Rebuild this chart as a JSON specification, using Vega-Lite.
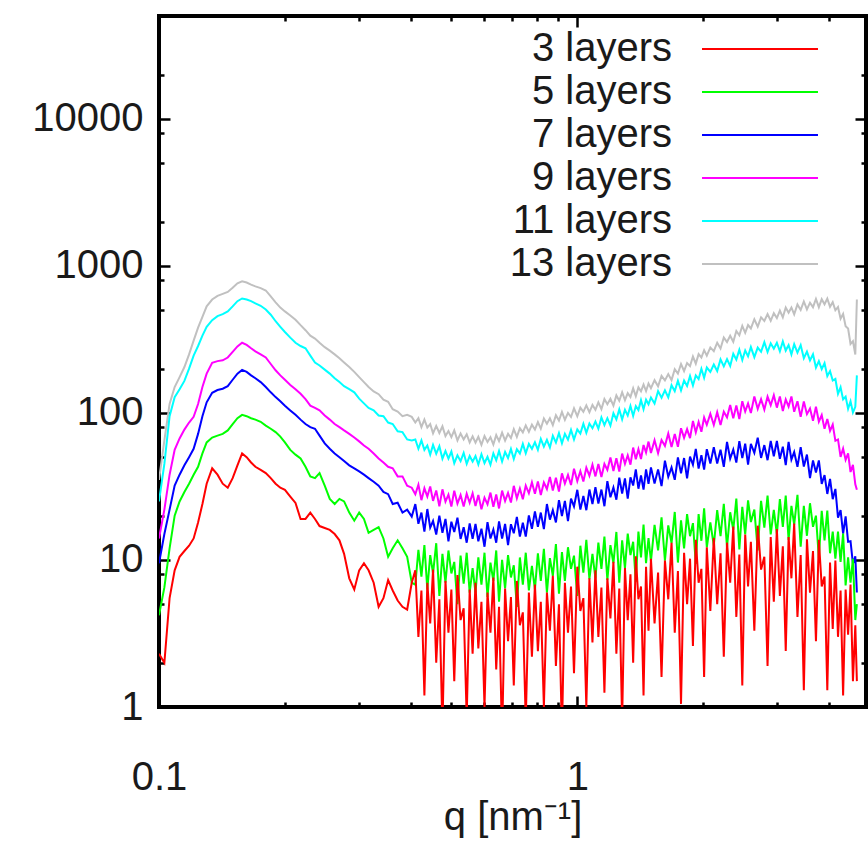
{
  "$schema": "https://vega.github.io/schema/vega-lite/v6.json",
  "width": 707,
  "height": 691,
  "autosize": "none",
  "padding": {"left": 159, "top": 16, "right": 2, "bottom": 137},
  "background": "white",
  "config": {
    "view": {"stroke": "#000000", "strokeWidth": 4},
    "font": "Liberation Sans",
    "axis": {
      "domain": false,
      "grid": false,
      "tickColor": "#000000",
      "tickWidth": 2.5,
      "labelFont": "Liberation Sans",
      "labelFontSize": 40,
      "labelColor": "#1a1a1a",
      "labelFlush": false,
      "labelOverlap": false,
      "labelBound": false
    }
  },
  "datasets": {
    "saxs": [
      {"q":0.100,"L3":2.3,"L5":4.2,"L7":9.5,"L9":14,"L11":25,"L13":35},
      {"q":0.103,"L3":2.0,"L5":6.5,"L7":15,"L9":22,"L11":45,"L13":65},
      {"q":0.106,"L3":5.5,"L5":12,"L7":22,"L9":38,"L11":95,"L13":115},
      {"q":0.109,"L3":8.5,"L5":20,"L7":32,"L9":56,"L11":128,"L13":150},
      {"q":0.112,"L3":10.5,"L5":25,"L7":38,"L9":67,"L11":145,"L13":175},
      {"q":0.115,"L3":11.5,"L5":29,"L7":44,"L9":77,"L11":165,"L13":205},
      {"q":0.118,"L3":12.5,"L5":33,"L7":50,"L9":86,"L11":200,"L13":250},
      {"q":0.121,"L3":14,"L5":38,"L7":57,"L9":94,"L11":245,"L13":310},
      {"q":0.124,"L3":18,"L5":43,"L7":72,"L9":115,"L11":285,"L13":380},
      {"q":0.127,"L3":24,"L5":53,"L7":95,"L9":150,"L11":335,"L13":450},
      {"q":0.130,"L3":33,"L5":63,"L7":118,"L9":185,"L11":385,"L13":530},
      {"q":0.134,"L3":42,"L5":68,"L7":137,"L9":219,"L11":427,"L13":590},
      {"q":0.138,"L3":38,"L5":70,"L7":143,"L9":225,"L11":455,"L13":625},
      {"q":0.142,"L3":33,"L5":72,"L7":146,"L9":228,"L11":470,"L13":645},
      {"q":0.146,"L3":31,"L5":76,"L7":152,"L9":238,"L11":490,"L13":665},
      {"q":0.150,"L3":36,"L5":84,"L7":168,"L9":260,"L11":530,"L13":710},
      {"q":0.154,"L3":44,"L5":92,"L7":185,"L9":283,"L11":575,"L13":760},
      {"q":0.158,"L3":53,"L5":97,"L7":196,"L9":300,"L11":600,"L13":785},
      {"q":0.162,"L3":50,"L5":95,"L7":190,"L9":290,"L11":590,"L13":770},
      {"q":0.166,"L3":46,"L5":92,"L7":180,"L9":275,"L11":575,"L13":745},
      {"q":0.170,"L3":43,"L5":90,"L7":172,"L9":262,"L11":555,"L13":725},
      {"q":0.175,"L3":41,"L5":87,"L7":162,"L9":250,"L11":535,"L13":705},
      {"q":0.180,"L3":39,"L5":82,"L7":150,"L9":238,"L11":505,"L13":680},
      {"q":0.185,"L3":36,"L5":78,"L7":138,"L9":215,"L11":465,"L13":620},
      {"q":0.190,"L3":33,"L5":74,"L7":128,"L9":195,"L11":420,"L13":565},
      {"q":0.195,"L3":31,"L5":69,"L7":120,"L9":180,"L11":385,"L13":520},
      {"q":0.200,"L3":30,"L5":63,"L7":112,"L9":168,"L11":355,"L13":490},
      {"q":0.206,"L3":27,"L5":56,"L7":104,"L9":155,"L11":325,"L13":460},
      {"q":0.212,"L3":24.4,"L5":52,"L7":97,"L9":145,"L11":300,"L13":430},
      {"q":0.218,"L3":19,"L5":49,"L7":90,"L9":135,"L11":285,"L13":395},
      {"q":0.224,"L3":19,"L5":43,"L7":84,"L9":124,"L11":275,"L13":365},
      {"q":0.230,"L3":21,"L5":37,"L7":80,"L9":112,"L11":245,"L13":335},
      {"q":0.236,"L3":19,"L5":36,"L7":78,"L9":108,"L11":220,"L13":320},
      {"q":0.242,"L3":17,"L5":39,"L7":70,"L9":104,"L11":210,"L13":300},
      {"q":0.249,"L3":16.5,"L5":32,"L7":62,"L9":96,"L11":197,"L13":280},
      {"q":0.256,"L3":16,"L5":26,"L7":57,"L9":90,"L11":185,"L13":265},
      {"q":0.263,"L3":15,"L5":24,"L7":53,"L9":84,"L11":172,"L13":250},
      {"q":0.270,"L3":13.6,"L5":26,"L7":50,"L9":80,"L11":162,"L13":235},
      {"q":0.277,"L3":11,"L5":25,"L7":47,"L9":76,"L11":152,"L13":220},
      {"q":0.285,"L3":7.5,"L5":21,"L7":44,"L9":72,"L11":145,"L13":205},
      {"q":0.293,"L3":6.3,"L5":18.5,"L7":42,"L9":68,"L11":138,"L13":190},
      {"q":0.301,"L3":8.5,"L5":21,"L7":40,"L9":64,"L11":125,"L13":175},
      {"q":0.309,"L3":9.5,"L5":19,"L7":38,"L9":60,"L11":116,"L13":162},
      {"q":0.317,"L3":8.5,"L5":15.3,"L7":36,"L9":57,"L11":108,"L13":150},
      {"q":0.326,"L3":7,"L5":16,"L7":34,"L9":53,"L11":104,"L13":140},
      {"q":0.335,"L3":4.8,"L5":16.7,"L7":32,"L9":49,"L11":96,"L13":134},
      {"q":0.344,"L3":5.5,"L5":14,"L7":29,"L9":46,"L11":95,"L13":123},
      {"q":0.353,"L3":7.3,"L5":10.5,"L7":28,"L9":43,"L11":86,"L13":119},
      {"q":0.362,"L3":6.2,"L5":12,"L7":24,"L9":42,"L11":84,"L13":106},
      {"q":0.372,"L3":5.3,"L5":13.6,"L7":24.5,"L9":37,"L11":75,"L13":102},
      {"q":0.382,"L3":4.8,"L5":12,"L7":21,"L9":37,"L11":74,"L13":95},
      {"q":0.392,"L3":4.6,"L5":10.5,"L7":22,"L9":32,"L11":66,"L13":97},
      {"q":0.402,"L3":7,"L5":7,"L7":19.7,"L9":31,"L11":65,"L13":94},
      {"q":0.41,"L3":8.5,"L5":6.8,"L7":24,"L9":28,"L11":66,"L13":86},
      {"q":0.417,"L3":3.0,"L5":11.7,"L7":17.6,"L9":32.5,"L11":57,"L13":92},
      {"q":0.424,"L3":6.2,"L5":7.7,"L7":21,"L9":25.5,"L11":65,"L13":80},
      {"q":0.431,"L3":1.2,"L5":12.6,"L7":15.6,"L9":30.7,"L11":56,"L13":90},
      {"q":0.438,"L3":7.0,"L5":6.3,"L7":22.2,"L9":27,"L11":60,"L13":79.5},
      {"q":0.445,"L3":3.7,"L5":10.8,"L7":16.6,"L9":31.6,"L11":52,"L13":84},
      {"q":0.452,"L3":8.6,"L5":8.1,"L7":18.4,"L9":25.2,"L11":60.5,"L13":72.7},
      {"q":0.46,"L3":2.0,"L5":13,"L7":14.9,"L9":29.7,"L11":52.8,"L13":81.6},
      {"q":0.468,"L3":5.4,"L5":5.7,"L7":20,"L9":23.2,"L11":59.4,"L13":73},
      {"q":0.476,"L3":0.7,"L5":11,"L7":15.3,"L9":30.2,"L11":48.8,"L13":81},
      {"q":0.484,"L3":7.2,"L5":7.0,"L7":19,"L9":24.9,"L11":55,"L13":69.6},
      {"q":0.492,"L3":3.2,"L5":11.6,"L7":13.4,"L9":27.8,"L11":48.9,"L13":75.2},
      {"q":0.5,"L3":6.3,"L5":8.1,"L7":18.2,"L9":23.1,"L11":54.6,"L13":68.4},
      {"q":0.508,"L3":1.5,"L5":9.7,"L7":15.5,"L9":29.6,"L11":45.5,"L13":76},
      {"q":0.517,"L3":7.9,"L5":5.0,"L7":19.4,"L9":24.2,"L11":51.5,"L13":65},
      {"q":0.526,"L3":3.9,"L5":10.7,"L7":13.9,"L9":27.6,"L11":47,"L13":72.5},
      {"q":0.535,"L3":4.7,"L5":6.9,"L7":16.7,"L9":23.1,"L11":53.4,"L13":66},
      {"q":0.544,"L3":0.84,"L5":11.2,"L7":13.1,"L9":28.2,"L11":45.1,"L13":71.6},
      {"q":0.553,"L3":6.3,"L5":6.0,"L7":17.7,"L9":24.5,"L11":50.9,"L13":63},
      {"q":0.562,"L3":2.3,"L5":8.8,"L7":13.9,"L9":28.4,"L11":46.6,"L13":69.2},
      {"q":0.571,"L3":7.0,"L5":6.0,"L7":17.6,"L9":23.3,"L11":50.9,"L13":62.7},
      {"q":0.58,"L3":2.5,"L5":10.4,"L7":13.4,"L9":27.7,"L11":44.6,"L13":68.8},
      {"q":0.59,"L3":5.2,"L5":6.8,"L7":16.3,"L9":22.1,"L11":52.3,"L13":60.6},
      {"q":0.6,"L3":1.0,"L5":11.2,"L7":12.3,"L9":26.5,"L11":45.6,"L13":69.6},
      {"q":0.61,"L3":6.0,"L5":5.6,"L7":18.1,"L9":23.9,"L11":50.3,"L13":63.4},
      {"q":0.62,"L3":3.2,"L5":9.6,"L7":14,"L9":28.7,"L11":44.4,"L13":68.4},
      {"q":0.63,"L3":7.6,"L5":7.2,"L7":16.1,"L9":23,"L11":53.1,"L13":60.9},
      {"q":0.64,"L3":1.8,"L5":11.6,"L7":13.1,"L9":27.9,"L11":47.6,"L13":70.6},
      {"q":0.65,"L3":4.8,"L5":5.2,"L7":18.3,"L9":22.4,"L11":55,"L13":64.3},
      {"q":0.661,"L3":0.6,"L5":10,"L7":14,"L9":29.6,"L11":46.7,"L13":73.4},
      {"q":0.672,"L3":6.4,"L5":6.4,"L7":17.6,"L9":25.2,"L11":54.2,"L13":64.9},
      {"q":0.683,"L3":2.8,"L5":10.8,"L7":12.6,"L9":28.6,"L11":49.3,"L13":72.1},
      {"q":0.694,"L3":5.6,"L5":7.6,"L7":17.5,"L9":24.6,"L11":56.9,"L13":67.5},
      {"q":0.705,"L3":1.4,"L5":9.2,"L7":15.2,"L9":31.9,"L11":48.6,"L13":77.6},
      {"q":0.717,"L3":7.2,"L5":4.8,"L7":19.6,"L9":26.3,"L11":56.7,"L13":68.8},
      {"q":0.729,"L3":3.6,"L5":10.4,"L7":14.4,"L9":30.6,"L11":53,"L13":78.8},
      {"q":0.741,"L3":4.4,"L5":6.8,"L7":17.9,"L9":25.9,"L11":61.6,"L13":73.7},
      {"q":0.753,"L3":0.8,"L5":11.2,"L7":14.4,"L9":32,"L11":53.2,"L13":82.2},
      {"q":0.766,"L3":6.0,"L5":6.2,"L7":20.1,"L9":28.4,"L11":61.5,"L13":74.3},
      {"q":0.779,"L3":2.2,"L5":9.1,"L7":16.3,"L9":33.7,"L11":57,"L13":83.2},
      {"q":0.792,"L3":6.8,"L5":6.3,"L7":21.4,"L9":28.2,"L11":63.1,"L13":77},
      {"q":0.805,"L3":2.4,"L5":11.1,"L7":16.8,"L9":34.2,"L11":56.1,"L13":86.6},
      {"q":0.818,"L3":5.2,"L5":7.2,"L7":21,"L9":27.6,"L11":66.6,"L13":78.1},
      {"q":0.832,"L3":1.0,"L5":11.9,"L7":16.2,"L9":33.6,"L11":58.9,"L13":91.5},
      {"q":0.846,"L3":6.0,"L5":6.0,"L7":24,"L9":30.4,"L11":65.5,"L13":84.4},
      {"q":0.86,"L3":3.3,"L5":10.3,"L7":18.8,"L9":36.7,"L11":58.1,"L13":92},
      {"q":0.874,"L3":7.8,"L5":7.8,"L7":21.8,"L9":29.7,"L11":69.8,"L13":82.6},
      {"q":0.889,"L3":1.9,"L5":12.8,"L7":18,"L9":36.2,"L11":62.8,"L13":96.5},
      {"q":0.904,"L3":5.0,"L5":5.9,"L7":25.5,"L9":29.2,"L11":72.9,"L13":88.8},
      {"q":0.919,"L3":0.65,"L5":11.3,"L7":19.9,"L9":38.8,"L11":62.1,"L13":101.5},
      {"q":0.934,"L3":7.0,"L5":7.2,"L7":25.2,"L9":33.1,"L11":72.1,"L13":89.8},
      {"q":0.95,"L3":3.2,"L5":12.2,"L7":18.4,"L9":37.8,"L11":65.8,"L13":99.9},
      {"q":0.966,"L3":6.6,"L5":8.7,"L7":26.1,"L9":32.3,"L11":76.7,"L13":93.8},
      {"q":0.982,"L3":1.7,"L5":10.7,"L7":23.1,"L9":41.7,"L11":66,"L13":107.3},
      {"q":1.0,"L3":9.0,"L5":5.7,"L7":30,"L9":34.4,"L11":77.3,"L13":94.9},
      {"q":1.017,"L3":4.5,"L5":12.5,"L7":22,"L9":40.1,"L11":72.4,"L13":108.6},
      {"q":1.034,"L3":5.5,"L5":8.2,"L7":27.2,"L9":34.2,"L11":84.4,"L13":101.6},
      {"q":1.051,"L3":1.0,"L5":13.7,"L7":21.8,"L9":42.4,"L11":73.1,"L13":112.4},
      {"q":1.069,"L3":7.5,"L5":7.4,"L7":30.1,"L9":37.4,"L11":84.6,"L13":101},
      {"q":1.087,"L3":2.75,"L5":11,"L7":24,"L9":44.4,"L11":78.6,"L13":113.4},
      {"q":1.105,"L3":8.5,"L5":7.5,"L7":31.2,"L9":37,"L11":87.3,"L13":105},
      {"q":1.123,"L3":3.0,"L5":13.1,"L7":24.2,"L9":45,"L11":78.1,"L13":117.9},
      {"q":1.142,"L3":6.5,"L5":8.7,"L7":30.1,"L9":36.6,"L11":93.2,"L13":106.2},
      {"q":1.161,"L3":1.25,"L5":14.4,"L7":23.2,"L9":44.9,"L11":82.7,"L13":124.1},
      {"q":1.18,"L3":7.5,"L5":7.3,"L7":34.3,"L9":41,"L11":92,"L13":114.5},
      {"q":1.2,"L3":4.0,"L5":12.6,"L7":26.7,"L9":49.7,"L11":81.9,"L13":124.8},
      {"q":1.22,"L3":9.7,"L5":9.5,"L7":31.1,"L9":40.3,"L11":99.4,"L13":112.2},
      {"q":1.24,"L3":2.3,"L5":15.5,"L7":25.7,"L9":49.2,"L11":90.2,"L13":131.4},
      {"q":1.26,"L3":6.4,"L5":7.0,"L7":36.3,"L9":39.9,"L11":105.6,"L13":121},
      {"q":1.28,"L3":0.8,"L5":13.6,"L7":28.3,"L9":52.9,"L11":90.2,"L13":138.2},
      {"q":1.3,"L3":8.8,"L5":8.8,"L7":35.8,"L9":45.1,"L11":105,"L13":122.2},
      {"q":1.32,"L3":3.9,"L5":15.1,"L7":26.1,"L9":51.5,"L11":95.9,"L13":136.4},
      {"q":1.34,"L3":8.0,"L5":10.8,"L7":36.5,"L9":44.5,"L11":111.3,"L13":128.1},
      {"q":1.36,"L3":2.0,"L5":13.3,"L7":32.1,"L9":58.1,"L11":95.4,"L13":146.8},
      {"q":1.38,"L3":10.6,"L5":7.1,"L7":41.3,"L9":48.4,"L11":111.2,"L13":129.8},
      {"q":1.4,"L3":5.4,"L5":15.6,"L7":30.5,"L9":56.7,"L11":104.5,"L13":149.1},
      {"q":1.42,"L3":6.6,"L5":10.4,"L7":37.5,"L9":48.6,"L11":122.1,"L13":140.3},
      {"q":1.44,"L3":1.2,"L5":17.4,"L7":30.1,"L9":60.5,"L11":106,"L13":156},
      {"q":1.46,"L3":9.0,"L5":9.5,"L7":41.3,"L9":53.8,"L11":123,"L13":140.8},
      {"q":1.48,"L3":3.3,"L5":14.1,"L7":32.9,"L9":63.8,"L11":114.5,"L13":158.5},
      {"q":1.5,"L3":10.2,"L5":9.8,"L7":42.6,"L9":53.4,"L11":127.2,"L13":147.3},
      {"q":1.53,"L3":3.7,"L5":17.3,"L7":33.1,"L9":65.1,"L11":115.8,"L13":167},
      {"q":1.56,"L3":8.2,"L5":11.6,"L7":41.3,"L9":53.2,"L11":140.6,"L13":151.6},
      {"q":1.59,"L3":1.6,"L5":19.5,"L7":31.8,"L9":65.3,"L11":126.8,"L13":178.7},
      {"q":1.62,"L3":9.9,"L5":9.9,"L7":47.3,"L9":59.7,"L11":142.5,"L13":166.3},
      {"q":1.65,"L3":5.4,"L5":17.2,"L7":36.8,"L9":72.3,"L11":127.4,"L13":183.6},
      {"q":1.68,"L3":13.1,"L5":13,"L7":42.6,"L9":58.7,"L11":154.4,"L13":167.1},
      {"q":1.71,"L3":3.2,"L5":21.2,"L7":35.1,"L9":71.9,"L11":140.6,"L13":198.2},
      {"q":1.74,"L3":8.4,"L5":9.6,"L7":49.8,"L9":58.8,"L11":165.4,"L13":185.3},
      {"q":1.77,"L3":1.05,"L5":18.6,"L7":38.8,"L9":78.6,"L11":142,"L13":214.9},
      {"q":1.8,"L3":11.2,"L5":12,"L7":49.3,"L9":67.7,"L11":165.9,"L13":192.7},
      {"q":1.83,"L3":5.0,"L5":20.5,"L7":35.9,"L9":77.5,"L11":152.3,"L13":218.4},
      {"q":1.86,"L3":10.2,"L5":14.5,"L7":50.4,"L9":67.3,"L11":178,"L13":208},
      {"q":1.89,"L3":2.6,"L5":17.8,"L7":44.4,"L9":88.2,"L11":153.5,"L13":241.8},
      {"q":1.92,"L3":13.7,"L5":9.4,"L7":56.9,"L9":73.7,"L11":180,"L13":216.2},
      {"q":1.95,"L3":7.0,"L5":20.5,"L7":41.8,"L9":86.7,"L11":170,"L13":251},
      {"q":1.98,"L3":8.7,"L5":13.5,"L7":51.5,"L9":74.5,"L11":199.5,"L13":238.1},
      {"q":2.01,"L3":1.6,"L5":22.4,"L7":41.2,"L9":93,"L11":173.4,"L13":267.1},
      {"q":2.04,"L3":12.2,"L5":12.2,"L7":56.7,"L9":83,"L11":203.5,"L13":245.3},
      {"q":2.08,"L3":4.5,"L5":18,"L7":45.2,"L9":98.6,"L11":190.1,"L13":278.7},
      {"q":2.12,"L3":14.1,"L5":12.5,"L7":58.4,"L9":82.8,"L11":213,"L13":263.2},
      {"q":2.16,"L3":5.0,"L5":21.8,"L7":45.2,"L9":101.2,"L11":192.5,"L13":300.3},
      {"q":2.2,"L3":11.1,"L5":14.5,"L7":56.2,"L9":82.7,"L11":231.1,"L13":274.4},
      {"q":2.24,"L3":2.2,"L5":24.1,"L7":43,"L9":101.8,"L11":207.1,"L13":325.3},
      {"q":2.28,"L3":13.1,"L5":12.2,"L7":63.4,"L9":93.1,"L11":231.9,"L13":303.6},
      {"q":2.32,"L3":7.0,"L5":21.1,"L7":48.9,"L9":113,"L11":208.4,"L13":334.9},
      {"q":2.36,"L3":16.9,"L5":16,"L7":56.3,"L9":91.8,"L11":252.7,"L13":304.5},
      {"q":2.4,"L3":4.1,"L5":26.1,"L7":45.9,"L9":112.3,"L11":230.4,"L13":360.4},
      {"q":2.44,"L3":10.9,"L5":11.8,"L7":64.2,"L9":90.8,"L11":268.4,"L13":337},
      {"q":2.48,"L3":1.4,"L5":23,"L7":49.3,"L9":120.1,"L11":229.1,"L13":391},
      {"q":2.52,"L3":14.9,"L5":14.9,"L7":61.8,"L9":102.3,"L11":265.7,"L13":350.6},
      {"q":2.56,"L3":6.6,"L5":25.4,"L7":44.5,"L9":115.9,"L11":242.5,"L13":395.5},
      {"q":2.6,"L3":13.3,"L5":18.1,"L7":61.6,"L9":99.7,"L11":280.3,"L13":375.3},
      {"q":2.65,"L3":3.3,"L5":22,"L7":53.5,"L9":129.2,"L11":239.4,"L13":433.4},
      {"q":2.7,"L3":17.1,"L5":11.6,"L7":67.8,"L9":106.5,"L11":278.1,"L13":386},
      {"q":2.75,"L3":8.6,"L5":25.2,"L7":49.4,"L9":123.9,"L11":260.3,"L13":446.3},
      {"q":2.8,"L3":10.5,"L5":16.6,"L7":60.4,"L9":105.3,"L11":303,"L13":422},
      {"q":2.85,"L3":1.9,"L5":27.4,"L7":47.7,"L9":128.9,"L11":259.5,"L13":469.6},
      {"q":2.9,"L3":14.3,"L5":14.9,"L7":64.4,"L9":112.8,"L11":297.3,"L13":423},
      {"q":2.95,"L3":5.2,"L5":21.9,"L7":50.7,"L9":131.9,"L11":273.3,"L13":476.3},
      {"q":3.0,"L3":16.2,"L5":15,"L7":64.4,"L9":108.6,"L11":300,"L13":441.8},
      {"q":3.05,"L3":5.7,"L5":25.9,"L7":48.7,"L9":129.3,"L11":262.3,"L13":495.6},
      {"q":3.1,"L3":12.4,"L5":16.8,"L7":58.9,"L9":103,"L11":306,"L13":446.4},
      {"q":3.15,"L3":2.4,"L5":27.4,"L7":44.1,"L9":123.5,"L11":265.4,"L13":521.1},
      {"q":3.2,"L3":14.3,"L5":13.7,"L7":63.6,"L9":110.2,"L11":289.1,"L13":480.2},
      {"q":3.25,"L3":7.5,"L5":23.3,"L7":48.1,"L9":129.4,"L11":250.3,"L13":521},
      {"q":3.3,"L3":17.7,"L5":17.4,"L7":54.1,"L9":101.7,"L11":293.5,"L13":467.4},
      {"q":3.36,"L3":4.1,"L5":27.7,"L7":43,"L9":120.1,"L11":256.9,"L13":545.9},
      {"q":3.42,"L3":10.8,"L5":12.3,"L7":58.4,"L9":93.9,"L11":289,"L13":501.6},
      {"q":3.48,"L3":1.3,"L5":23.3,"L7":43.2,"L9":119.6,"L11":235.2,"L13":572.4},
      {"q":3.54,"L3":13.8,"L5":14.6,"L7":52.1,"L9":98.1,"L11":261,"L13":505.3},
      {"q":3.6,"L3":6.0,"L5":24.3,"L7":36,"L9":107.1,"L11":227.5,"L13":561.4},
      {"q":3.66,"L3":11.5,"L5":16.8,"L7":47.5,"L9":88.4,"L11":250.4,"L13":523.5},
      {"q":3.72,"L3":2.8,"L5":20,"L7":39.3,"L9":110.1,"L11":203.4,"L13":596},
      {"q":3.78,"L3":13.7,"L5":10.3,"L7":47.5,"L9":87.3,"L11":224.5,"L13":523.6},
      {"q":3.84,"L3":6.6,"L5":21.6,"L7":32.9,"L9":96.7,"L11":198.6,"L13":593.3},
      {"q":3.9,"L3":7.7,"L5":13.6,"L7":37.8,"L9":77.9,"L11":218,"L13":548},
      {"q":3.96,"L3":1.3,"L5":21.7,"L7":28.1,"L9":90.8,"L11":177.6,"L13":598.9},
      {"q":4.02,"L3":9.6,"L5":11.1,"L7":35.6,"L9":75.5,"L11":192.4,"L13":526.4},
      {"q":4.08,"L3":3.4,"L5":15.6,"L7":25.9,"L9":83.3,"L11":165.9,"L13":566.8},
      {"q":4.14,"L3":9.9,"L5":10.2,"L7":30.4,"L9":64.6,"L11":170.1,"L13":498.8},
      {"q":4.2,"L3":3.0,"L5":15.6,"L7":19.4,"L9":66,"L11":134.9,"L13":525},
      {"q":4.26,"L3":6.2,"L5":9.7,"L7":21.8,"L9":50.2,"L11":149.3,"L13":437},
      {"q":4.32,"L3":1.2,"L5":15.1,"L7":15.1,"L9":57.2,"L11":123.5,"L13":470.8},
      {"q":4.38,"L3":6.3,"L5":6.7,"L7":19.8,"L9":48,"L11":129,"L13":388},
      {"q":4.44,"L3":3.1,"L5":10.4,"L7":13.3,"L9":53.1,"L11":106.5,"L13":374.4},
      {"q":4.5,"L3":6.8,"L5":7.0,"L7":13.4,"L9":39.6,"L11":119.9,"L13":294.4},
      {"q":4.56,"L3":1.5,"L5":10.2,"L7":9.4,"L9":44.3,"L11":100.8,"L13":307.4},
      {"q":4.62,"L3":3.6,"L5":3.9,"L7":10.6,"L9":32.7,"L11":110,"L13":249.6},
      {"q":4.66,"L3":1.5,"L5":5,"L7":6,"L9":30,"L11":180,"L13":590}
    ]
  },
  "layer": [
    {
      "data": {"name": "saxs"},
      "transform": [
        {"fold": ["L13", "L11", "L9", "L7", "L5", "L3"], "as": ["series", "I"]}
      ],
      "mark": {"type": "line", "strokeWidth": 2, "clip": true},
      "encoding": {
        "x": {
          "field": "q",
          "type": "quantitative",
          "scale": {"type": "log", "domain": [0.1, 4.9], "nice": false},
          "axis": {
            "orient": "bottom",
            "values": [0.1, 1],
            "format": "~g",
            "tickSize": -11,
            "labelPadding": 61,
            "title": "q [nm⁻¹]",
            "titleFont": "Liberation Sans",
            "titleFontSize": 40,
            "titleFontWeight": "normal",
            "titleColor": "#1a1a1a",
            "titlePadding": 0
          }
        },
        "y": {
          "field": "I",
          "type": "quantitative",
          "scale": {"type": "log", "domain": [1, 50000], "nice": false},
          "axis": {
            "orient": "left",
            "values": [1, 10, 100, 1000, 10000],
            "format": "d",
            "tickSize": -11,
            "labelPadding": 27,
            "title": null
          }
        },
        "color": {
          "field": "series",
          "type": "nominal",
          "scale": {
            "domain": ["L3", "L5", "L7", "L9", "L11", "L13"],
            "range": ["#ff0000", "#00ff00", "#0000ff", "#ff00ff", "#00ffff", "#c0c0c0"]
          },
          "legend": {
            "orient": "none",
            "legendX": 581,
            "legendY": 13,
            "title": null,
            "padding": 0,
            "symbolType": "M-5,0H5",
            "symbolSize": 538,
            "symbolStrokeWidth": 2,
            "labelFont": "Liberation Sans",
            "labelFontSize": 40,
            "labelColor": "#1a1a1a",
            "labelAlign": "right",
            "labelBaseline": "middle",
            "labelOffset": -108,
            "labelLimit": 0,
            "rowPadding": 3,
            "labelExpr": "replace(datum.label, 'L', '') + ' layers'"
          }
        }
      }
    },
    {
      "data": {"values": [{"q": 0.1, "I": 1}]},
      "mark": {"type": "point", "opacity": 0},
      "encoding": {
        "x": {
          "field": "q", "type": "quantitative",
          "scale": {"type": "log", "domain": [0.1, 4.9], "nice": false},
          "axis": {"orient": "bottom", "values": [0.2, 0.3, 0.4, 0.5, 0.6, 0.7, 0.8, 0.9, 2, 3, 4], "tickSize": -5, "labels": false, "title": null}
        },
        "y": {
          "field": "I", "type": "quantitative",
          "scale": {"type": "log", "domain": [1, 50000], "nice": false},
          "axis": {"orient": "left", "values": [2, 5, 8, 20, 50, 80, 200, 500, 800, 2000, 5000, 8000, 20000], "tickSize": -5, "labels": false, "title": null}
        }
      }
    },
    {
      "data": {"values": [{"q": 0.1, "I": 1}]},
      "mark": {"type": "point", "opacity": 0},
      "encoding": {
        "x": {
          "field": "q", "type": "quantitative",
          "scale": {"type": "log", "domain": [0.1, 4.9], "nice": false},
          "axis": {"orient": "top", "values": [0.1, 1], "tickSize": -11, "labels": false, "title": null}
        },
        "y": {
          "field": "I", "type": "quantitative",
          "scale": {"type": "log", "domain": [1, 50000], "nice": false},
          "axis": {"orient": "right", "values": [1, 10, 100, 1000, 10000], "tickSize": -11, "labels": false, "title": null}
        }
      }
    },
    {
      "data": {"values": [{"q": 0.1, "I": 1}]},
      "mark": {"type": "point", "opacity": 0},
      "encoding": {
        "x": {
          "field": "q", "type": "quantitative",
          "scale": {"type": "log", "domain": [0.1, 4.9], "nice": false},
          "axis": {"orient": "top", "values": [0.2, 0.3, 0.4, 0.5, 0.6, 0.7, 0.8, 0.9, 2, 3, 4], "tickSize": -5, "labels": false, "title": null}
        },
        "y": {
          "field": "I", "type": "quantitative",
          "scale": {"type": "log", "domain": [1, 50000], "nice": false},
          "axis": {"orient": "right", "values": [2, 5, 8, 20, 50, 80, 200, 500, 800, 2000, 5000, 8000, 20000], "tickSize": -5, "labels": false, "title": null}
        }
      }
    }
  ],
  "resolve": {"axis": {"x": "independent", "y": "independent"}}
}
